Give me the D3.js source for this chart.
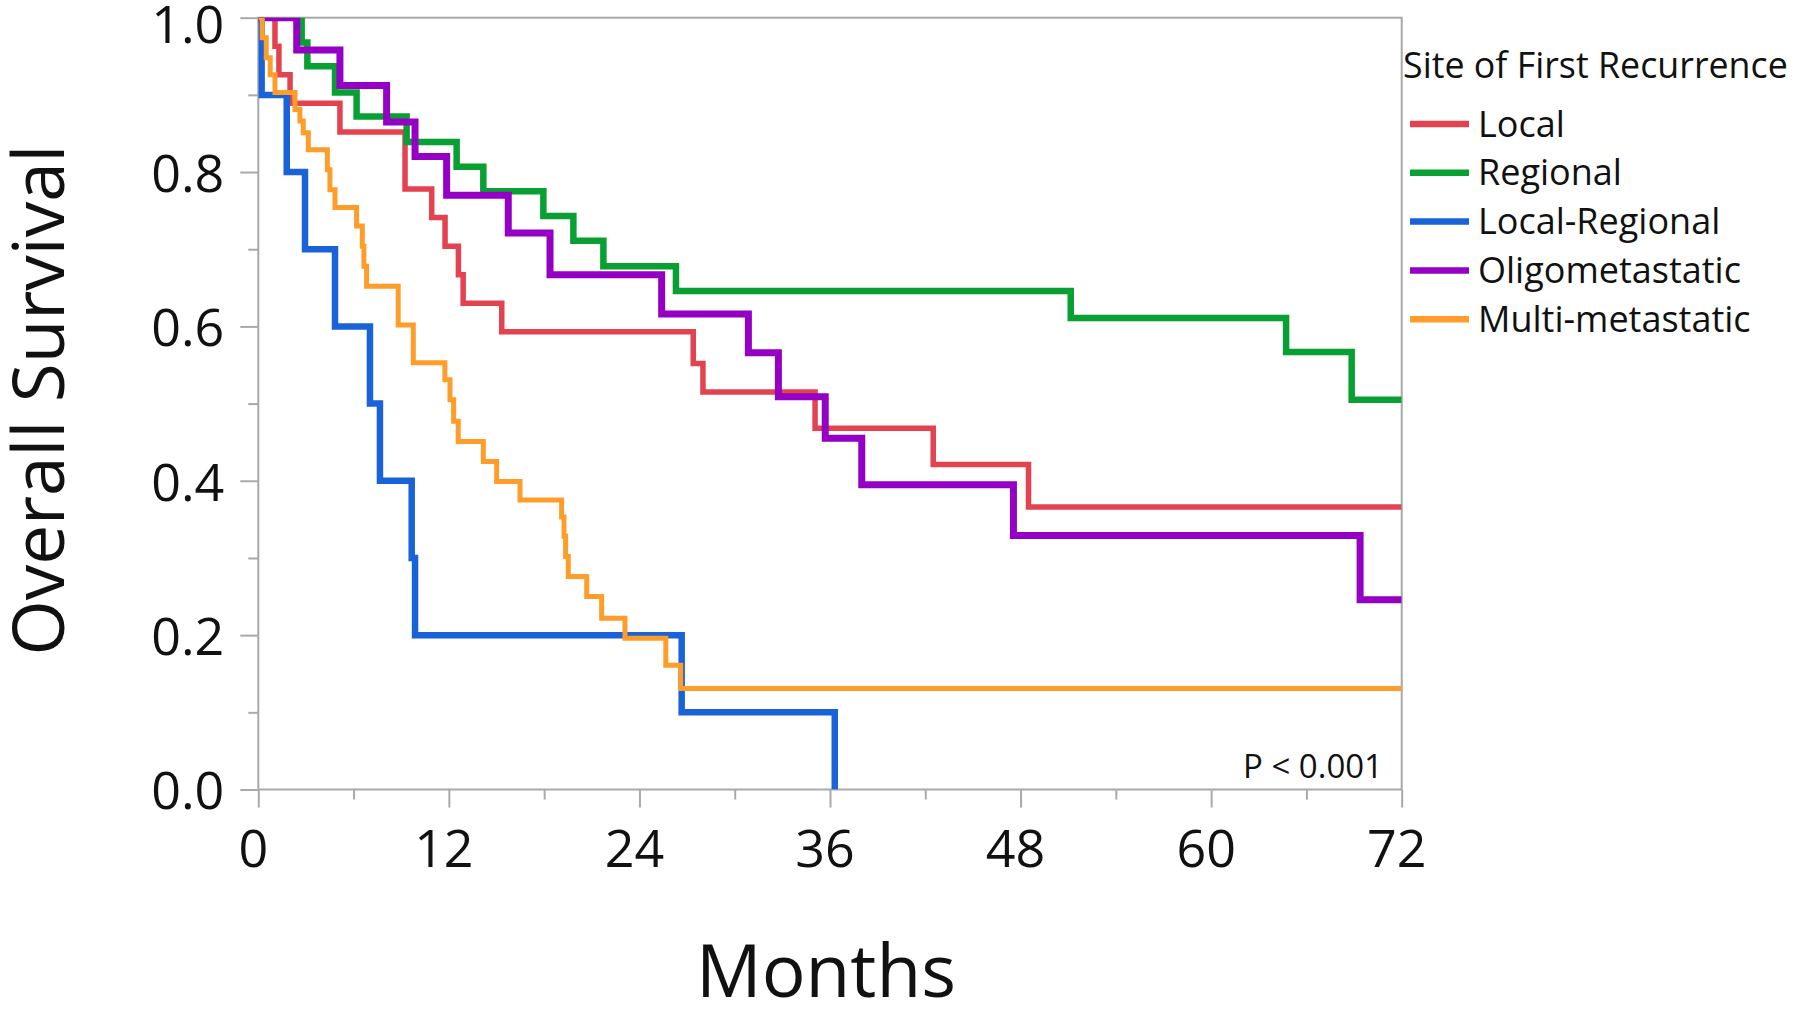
<!DOCTYPE html>
<html>
<head>
<meta charset="utf-8">
<script src="https://cdn.jsdelivr.net/npm/d3@7"></script>
<style>
  html, body { margin: 0; padding: 0; background: #fff; }
  svg { display: block; }
  text { font-family: "Open Sans", "Noto Sans", sans-serif; fill: #111; }
</style>
</head>
<body>
<svg id="chart" width="1800" height="1009"></svg>
<script>
// ---------------- data ----------------
const xMajorTicks = [0, 12, 24, 36, 48, 60, 72];
const xMinorTicks = [6, 18, 30, 42, 54, 66];
const yMajorTicks = [0, 0.2, 0.4, 0.6, 0.8, 1.0];
const yMinorTicks = [0.1, 0.3, 0.5, 0.7, 0.9];

const seriesNames = ["Local", "Regional", "Local-Regional", "Oligometastatic", "Multi-metastatic"];
const seriesColors = ["#e2434f", "#08a033", "#1a62d8", "#9400c4", "#ff9d2b"];

const localTimes = [0, 1.05, 1.3, 2.0, 5.14, 9.24, 10.92, 11.76, 12.6, 12.9, 15.33, 27.39, 28.0, 35.06, 42.5, 48.5, 72];
const localSurv  = [1, 0.963, 0.926, 0.889, 0.852, 0.778, 0.741, 0.704, 0.667, 0.630, 0.593, 0.552, 0.515, 0.468, 0.421, 0.366, 0.366];

const regionalTimes = [0, 2.73, 3.09, 4.83, 6.19, 9.34, 12.49, 14.17, 17.95, 19.84, 21.73, 26.30, 51.16, 64.72, 68.85, 72];
const regionalSurv  = [1, 0.968, 0.937, 0.903, 0.872, 0.839, 0.807, 0.775, 0.743, 0.711, 0.678, 0.646, 0.611, 0.567, 0.505, 0.505];

const localRegionalTimes = [0, 0.21, 1.79, 2.94, 4.83, 7.03, 7.66, 9.66, 9.87, 26.66, 36.3];
const localRegionalSurv  = [1, 0.9, 0.8, 0.7, 0.6, 0.5, 0.4, 0.3, 0.2, 0.1, 0];

const oligoTimes = [0, 2.42, 5.14, 8.08, 9.87, 11.86, 15.74, 18.37, 25.40, 30.86, 32.75, 35.7, 38.0, 47.55, 69.38, 72];
const oligoSurv  = [1, 0.958, 0.912, 0.865, 0.820, 0.770, 0.721, 0.667, 0.616, 0.566, 0.509, 0.455, 0.395, 0.329, 0.246, 0.246];

const multiTimes = [0, 0.25, 0.5, 0.75, 1.05, 2.31, 2.62, 2.83, 3.15, 4.35, 4.51, 4.83, 6.19, 6.55, 6.65, 6.82, 8.81, 9.76, 11.75, 12.07, 12.3, 12.59, 14.17, 15.01, 16.48, 19.10, 19.25, 19.35, 19.52, 20.68, 21.62, 23.09, 25.66, 26.6, 72];
const multiSurv  = [1, 0.974, 0.948, 0.926, 0.903, 0.881, 0.866, 0.851, 0.829, 0.803, 0.777, 0.754, 0.730, 0.704, 0.678, 0.652, 0.602, 0.553, 0.531, 0.505, 0.477, 0.451, 0.425, 0.399, 0.375, 0.353, 0.328, 0.302, 0.276, 0.250, 0.222, 0.196, 0.161, 0.131, 0.131];

const seriesTimes = [localTimes, regionalTimes, localRegionalTimes, oligoTimes, multiTimes];
const seriesSurv = [localSurv, regionalSurv, localRegionalSurv, oligoSurv, multiSurv];

const xTitle = "Months";
const yTitle = "Overall Survival";
const legendTitle = "Site of First Recurrence";
const pText = "P < 0.001";

// ---------------- layout ----------------
const plot = { left: 258.3, right: 1401.7, top: 17.7, bottom: 789.5 };
const frameColor = "#a9a9a9";
const lineWidths = [5.5, 6.5, 6.5, 7, 5];

const svg = d3.select("#chart");
svg.append("rect").attr("width", 1800).attr("height", 1009).attr("fill", "#fff");

const x = d3.scaleLinear().domain([0, 72]).range([plot.left, plot.right]);
const y = d3.scaleLinear().domain([0, 1]).range([plot.bottom, plot.top]);

const styleAxis = g => {
  g.select(".domain").remove();
  g.selectAll(".tick line").attr("stroke", frameColor).attr("stroke-width", 2);
};

const yMajorAxis = svg.append("g").attr("transform", `translate(${plot.left},0)`)
  .call(d3.axisLeft(y).tickValues(yMajorTicks).tickSize(18).tickPadding(16).tickFormat(d3.format(".1f")));
styleAxis(yMajorAxis);
yMajorAxis.selectAll(".tick text")
  .attr("font-size", 52).attr("font-family", '"Open Sans", sans-serif').attr("fill", "#111")
  .attr("dy", "0.37em")
  .attr("y", d => (d === 1 ? 6 : 0));

const yMinorAxis = svg.append("g").attr("transform", `translate(${plot.left},0)`)
  .call(d3.axisLeft(y).tickValues(yMinorTicks).tickSize(10).tickFormat(""));
styleAxis(yMinorAxis);

const xMajorAxis = svg.append("g").attr("transform", `translate(0,${plot.bottom})`)
  .call(d3.axisBottom(x).tickValues(xMajorTicks).tickSize(18).tickPadding(23).tickFormat(d3.format("d")));
styleAxis(xMajorAxis);
xMajorAxis.selectAll(".tick text")
  .attr("font-size", 52).attr("font-family", '"Open Sans", sans-serif').attr("fill", "#111")
  .attr("dx", -5.5);

const xMinorAxis = svg.append("g").attr("transform", `translate(0,${plot.bottom})`)
  .call(d3.axisBottom(x).tickValues(xMinorTicks).tickSize(10).tickFormat(""));
styleAxis(xMinorAxis);

// frame
svg.append("rect")
  .attr("x", plot.left).attr("y", plot.top)
  .attr("width", plot.right - plot.left).attr("height", plot.bottom - plot.top)
  .attr("fill", "none").attr("stroke", frameColor).attr("stroke-width", 2);

// clip
svg.append("clipPath").attr("id", "plotClip").append("rect")
  .attr("x", plot.left).attr("y", plot.top)
  .attr("width", plot.right - plot.left).attr("height", plot.bottom - plot.top);

const line = d3.line().x(d => x(d[0])).y(d => y(d[1])).curve(d3.curveStepAfter);
const curves = svg.append("g").attr("clip-path", "url(#plotClip)");
seriesNames.forEach((name, i) => {
  const pts = seriesTimes[i].map((t, j) => [t, seriesSurv[i][j]]);
  curves.append("path")
    .datum(pts)
    .attr("d", line)
    .attr("fill", "none")
    .attr("stroke", seriesColors[i])
    .attr("stroke-width", lineWidths[i])
    .attr("stroke-linejoin", "miter")
    .attr("stroke-linecap", "butt");
});

// p-value
svg.append("text").attr("x", 1383).attr("y", 778)
  .attr("text-anchor", "end").attr("font-size", 33).text(pText);

// axis titles
svg.append("text").attr("x", 826).attr("y", 997)
  .attr("text-anchor", "middle").attr("font-size", 73).text(xTitle);
svg.append("text").attr("transform", "translate(64,400) rotate(-90)")
  .attr("text-anchor", "middle").attr("font-size", 71).text(yTitle);

// legend
const legend = svg.append("g");
legend.append("text").attr("x", 1403).attr("y", 65).attr("dy", "0.35em")
  .attr("font-size", 35.8).text(legendTitle);
seriesNames.forEach((name, i) => {
  const ly = 124 + i * 48.8;
  legend.append("line")
    .attr("x1", 1410).attr("x2", 1469).attr("y1", ly).attr("y2", ly)
    .attr("stroke", seriesColors[i]).attr("stroke-width", 6.5);
  legend.append("text").attr("x", 1478).attr("y", ly).attr("dy", "0.35em")
    .attr("font-size", 36).text(name);
});
</script>
</body>
</html>
